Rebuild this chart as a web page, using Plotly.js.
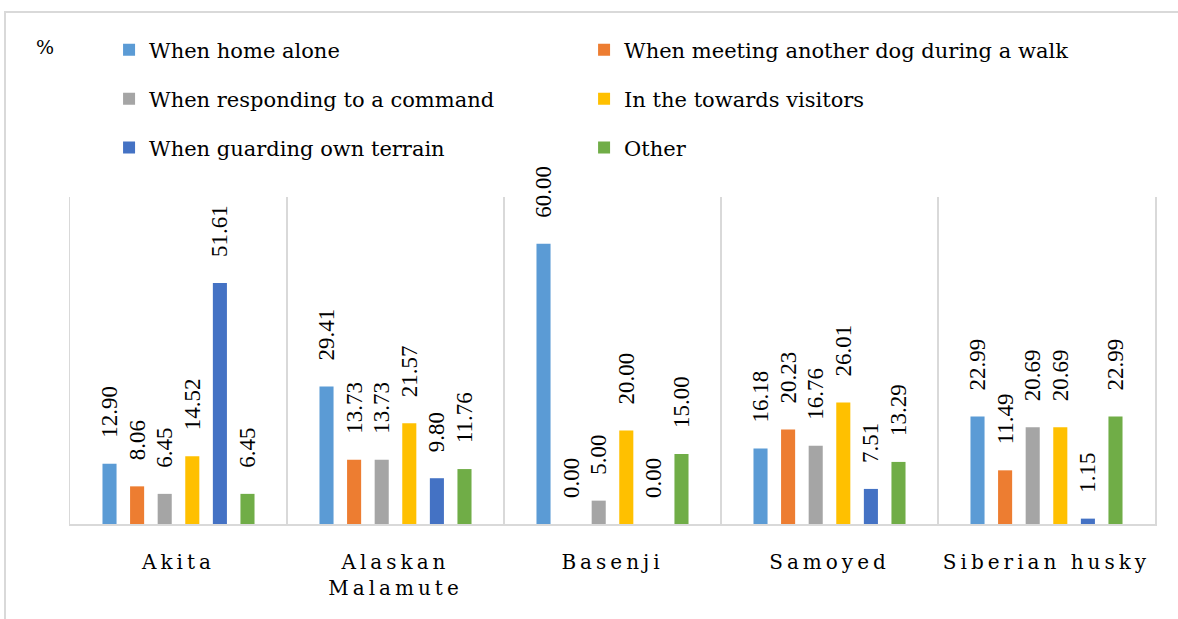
<!DOCTYPE html>
<html>
<head>
<meta charset="utf-8">
<script src="https://cdn.plot.ly/plotly-3.0.1.min.js"></script>
<style>
  html, body { margin: 0; padding: 0; background: #fff; }
  #chart { width: 1178px; height: 619px; }
  .xtick text { letter-spacing: 4px; }
</style>
</head>
<body>
<div id="chart"></div>
<script>
// breeds on the x axis
var breeds = ['Akita', 'Alaskan Malamute', 'Basenji', 'Samoyed', 'Siberian husky'];
var breedLabels = ['Akita', 'Alaskan<br>Malamute', 'Basenji', 'Samoyed', 'Siberian husky'];

// one array per situation (%)
var homeAlone    = [12.90, 29.41, 60.00, 16.18, 22.99];
var meetingDog   = [8.06, 13.73, 0.00, 20.23, 11.49];
var respondCmd   = [6.45, 13.73, 5.00, 16.76, 20.69];
var visitors     = [14.52, 21.57, 20.00, 26.01, 20.69];
var guarding     = [51.61, 9.80, 0.00, 7.51, 1.15];
var other        = [6.45, 11.76, 15.00, 13.29, 22.99];

var seriesNames = [
    'When home alone',
    'When meeting another dog during a walk',
    'When responding to a command',
    'In the towards visitors',
    'When guarding own terrain',
    'Other'
];
var seriesValues = [homeAlone, meetingDog, respondCmd, visitors, guarding, other];
var seriesColors = ['#5B9BD5', '#ED7D31', '#A5A5A5', '#FFC000', '#4472C4', '#70AD47'];

var serif = 'Liberation Serif';
var bookish = 'DejaVu Serif';

// legend is laid out as 3 rows x 2 columns, one small legend per entry
var legendIds = ['legend', 'legend2', 'legend3', 'legend4', 'legend5', 'legend6'];
var legendCols = [0.036, 0.4738];
var legendRows = [1.4495, 1.2997, 1.15];

var data = [];
for (var i = 0; i < seriesNames.length; i++) {
    data.push({
        type: 'bar',
        x: breeds,
        y: seriesValues[i],
        name: seriesNames[i],
        marker: { color: seriesColors[i] },
        texttemplate: '\u00a0\u00a0\u00a0\u00a0%{y:.2f}',
        textposition: 'outside',
        textangle: -90,
        constraintext: 'none',
        cliponaxis: false,
        textfont: { family: serif, size: 23, color: '#000' },
        legend: legendIds[i],
        hoverinfo: 'skip'
    });
}

var layout = {
    width: 1178,
    height: 619,
    margin: { l: 70, r: 23, t: 197, b: 95 },
    font: { family: serif, color: '#000' },
    paper_bgcolor: '#fff',
    plot_bgcolor: '#fff',
    barmode: 'group',
    bargap: 0.237,
    bargroupgap: 0.49,
    showlegend: true,
    xaxis: {
        type: 'category',
        tickvals: breeds,
        ticktext: breedLabels,
        tickson: 'boundaries',
        showgrid: true,
        gridcolor: '#d9d9d9',
        gridwidth: 1.5,
        showline: true,
        linecolor: '#d9d9d9',
        linewidth: 1.5,
        ticks: '',
        ticklabelstandoff: 19,
        tickfont: { family: bookish, size: 20, color: '#000' }
    },
    yaxis: {
        range: [0, 70],
        showgrid: false,
        zeroline: false,
        showticklabels: false,
        ticks: '',
        showline: true,
        mirror: true,
        linecolor: '#d9d9d9',
        linewidth: 1.5
    },
    annotations: [{
        xref: 'paper', yref: 'paper',
        x: -0.033, y: 1.50,
        text: '%',
        showarrow: false,
        font: { family: bookish, size: 19, color: '#000' }
    }],
    shapes: [{
        type: 'rect',
        xref: 'paper', yref: 'paper',
        x0: -0.0599, x1: 1.03,
        y0: -0.31, y1: 1.5657,
        line: { color: '#d9d9d9', width: 2 },
        layer: 'below'
    }]
};

for (var k = 0; k < legendIds.length; k++) {
    layout[legendIds[k]] = {
        orientation: 'h',
        x: legendCols[k % 2], xanchor: 'left',
        y: legendRows[Math.floor(k / 2)], yanchor: 'middle',
        font: { family: bookish, size: 21, color: '#000' },
        bgcolor: 'rgba(0,0,0,0)',
        itemclick: false
    };
}
// traces go row by row: 0,1 first row; 2,3 second; 4,5 third
for (var t = 0; t < data.length; t++) {
    var row = Math.floor(t / 2), col = t % 2;
    data[t].legend = legendIds[row * 2 + col];
}

Plotly.newPlot('chart', data, layout, { displayModeBar: false, staticPlot: true });
</script>
</body>
</html>
